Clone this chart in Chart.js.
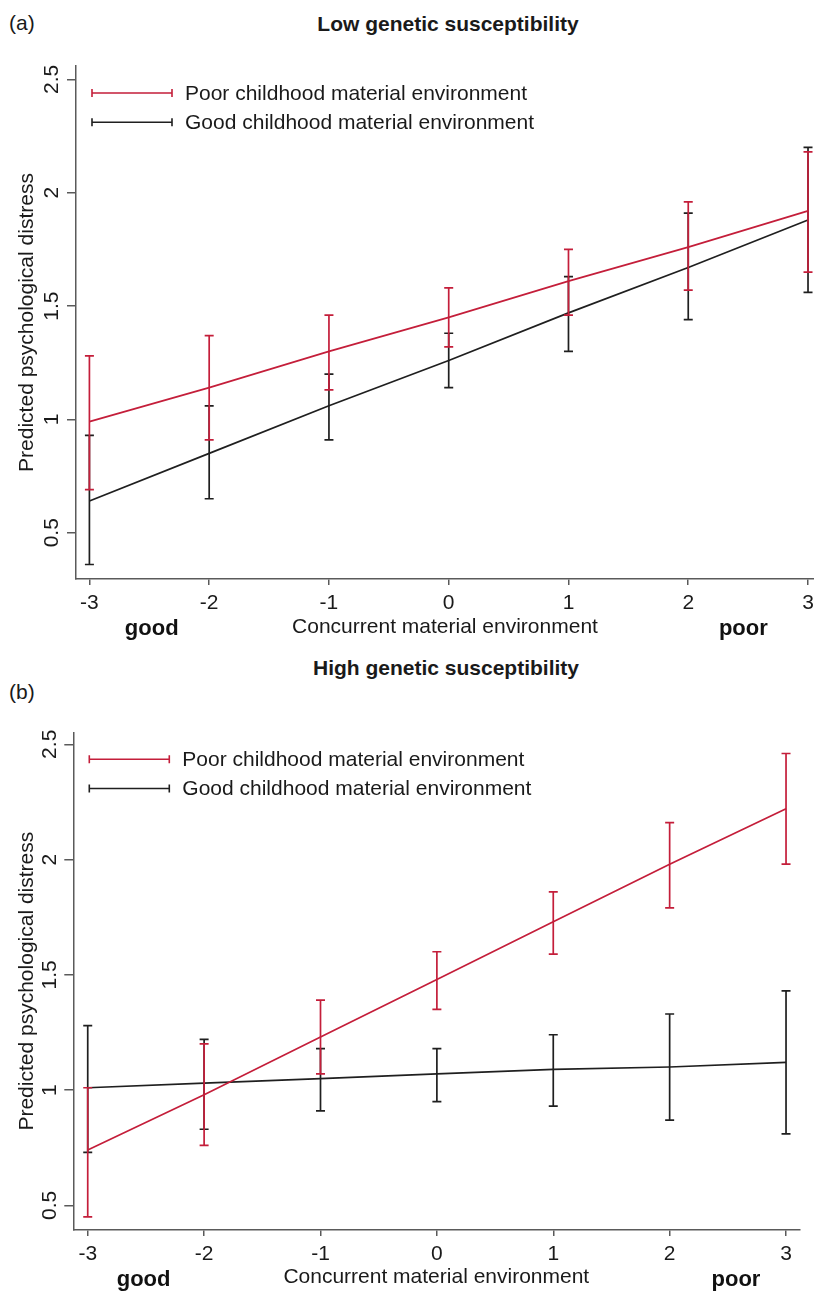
<!DOCTYPE html>
<html>
<head>
<meta charset="utf-8">
<script src="https://cdn.jsdelivr.net/npm/chart.js@4.4.0/dist/chart.umd.min.js"></script>
<style>
    body { margin: 0; background: #fff; font-family: 'Liberation Sans', Arial, sans-serif; }
    #page { position: relative; width: 814px; height: 1292px; overflow: hidden; }
    canvas { position: absolute; left: 0; }
    .tag { position: absolute; left: 9px; font-size: 21px; color: #1a1a1a; line-height: 24px; }
    .title { position: absolute; font-size: 21px; font-weight: bold; color: #1a1a1a; line-height: 24px;
             transform: translateX(-50%); white-space: nowrap; }
</style>
</head>
<body>
<div id="page">
    <div class="tag" style="top:11px;">(a)</div>
    <div class="title" style="left:448px; top:12px;">Low genetic susceptibility</div>
    <canvas id="lowChart" width="814" height="645" style="top:0px;"></canvas>

    <div class="tag" style="top:680px;">(b)</div>
    <div class="title" style="left:446px; top:656px;">High genetic susceptibility</div>
    <canvas id="highChart" width="814" height="647" style="top:645px;"></canvas>
</div>

<script>
// x 값 (concurrent material environment)
const xValues = [-3, -2, -1, 0, 1, 2, 3];
const xTickValues = [-3, -2, -1, 0, 1, 2, 3];
const yTickValues = [0.5, 1, 1.5, 2, 2.5];

const seriesLabels = ['Poor childhood material environment', 'Good childhood material environment'];

// (a) Low genetic susceptibility
const lowPoorMean  = [0.99, 1.14, 1.30, 1.45, 1.61, 1.76, 1.92];
const lowPoorLower = [0.69, 0.91, 1.13, 1.32, 1.46, 1.57, 1.65];
const lowPoorUpper = [1.28, 1.37, 1.46, 1.58, 1.75, 1.96, 2.18];
const lowGoodMean  = [0.64, 0.85, 1.06, 1.26, 1.47, 1.67, 1.88];
const lowGoodLower = [0.36, 0.65, 0.91, 1.14, 1.30, 1.44, 1.56];
const lowGoodUpper = [0.93, 1.06, 1.20, 1.38, 1.63, 1.91, 2.20];

// (b) High genetic susceptibility
const highPoorMean  = [0.74, 0.98, 1.23, 1.48, 1.73, 1.98, 2.22];
const highPoorLower = [0.45, 0.76, 1.07, 1.35, 1.59, 1.79, 1.98];
const highPoorUpper = [1.01, 1.20, 1.39, 1.60, 1.86, 2.16, 2.46];
const highGoodMean  = [1.01, 1.03, 1.05, 1.07, 1.09, 1.10, 1.12];
const highGoodLower = [0.73, 0.83, 0.91, 0.95, 0.93, 0.87, 0.81];
const highGoodUpper = [1.28, 1.22, 1.18, 1.18, 1.24, 1.33, 1.43];

const RED = '#c41e3a';
const BLACK = '#1f1f1f';
const AXIS = '#5a5a5a';
const FONT = "'Liberation Sans', Arial, sans-serif";

// 오차 막대 (데이터셋마다 선 바로 뒤에 그림)
const errorBarPlugin = {
    id: 'errorBars',
    afterDatasetDraw(chart, args, opts) {
        const ds = chart.data.datasets[args.index];
        if (!ds.lower) return;
        const ctx = chart.ctx;
        const xs = chart.scales.x;
        const ys = chart.scales.y;
        const cap = opts.capHalf;
        ctx.save();
        ctx.strokeStyle = ds.borderColor;
        ctx.lineWidth = opts.lineWidth;
        ds.data.forEach((pt, i) => {
            const px = xs.getPixelForValue(pt.x);
            const lo = ys.getPixelForValue(ds.lower[i]);
            const hi = ys.getPixelForValue(ds.upper[i]);
            ctx.beginPath();
            ctx.moveTo(px, lo); ctx.lineTo(px, hi);
            ctx.moveTo(px - cap, lo); ctx.lineTo(px + cap, lo);
            ctx.moveTo(px - cap, hi); ctx.lineTo(px + cap, hi);
            ctx.stroke();
        });
        ctx.restore();
    }
};

// 범례 (오차 막대 모양 기호)
const errorLegendPlugin = {
    id: 'errorLegend',
    afterDraw(chart, args, opts) {
        const ctx = chart.ctx;
        const area = chart.chartArea;
        ctx.save();
        chart.data.datasets.forEach((ds, i) => {
            const y = area.top + opts.top + i * opts.rowGap;
            const x0 = area.left + opts.left;
            const x1 = x0 + opts.symbolWidth;
            ctx.strokeStyle = ds.borderColor;
            ctx.lineWidth = 1.6;
            ctx.beginPath();
            ctx.moveTo(x0, y); ctx.lineTo(x1, y);
            ctx.moveTo(x0, y - 4); ctx.lineTo(x0, y + 4);
            ctx.moveTo(x1, y - 4); ctx.lineTo(x1, y + 4);
            ctx.stroke();
            ctx.fillStyle = '#1a1a1a';
            ctx.font = '21px ' + FONT;
            ctx.textBaseline = 'middle';
            ctx.textAlign = 'left';
            ctx.fillText(ds.label, x1 + opts.textGap, y + 1);
        });
        ctx.restore();
    }
};

// x축 양 끝의 good / poor
const endLabelPlugin = {
    id: 'endLabels',
    afterDraw(chart, args, opts) {
        const ctx = chart.ctx;
        const xs = chart.scales.x;
        const y = chart.chartArea.bottom + opts.offset;
        ctx.save();
        ctx.fillStyle = '#111';
        ctx.font = 'bold 22px ' + FONT;
        ctx.textAlign = 'center';
        ctx.textBaseline = 'middle';
        ctx.fillText('good', xs.getPixelForValue(opts.goodAt), y);
        ctx.fillText('poor', xs.getPixelForValue(opts.poorAt), y);
        ctx.restore();
    }
};

function makeSeries(label, color, mean, lower, upper) {
    return {
        label: label,
        data: xValues.map((x, i) => ({ x: x, y: mean[i] })),
        lower: lower,
        upper: upper,
        borderColor: color,
        backgroundColor: color,
        borderWidth: 1.7,
        pointRadius: 0,
        tension: 0,
        fill: false
    };
}

function renderPanel(canvasId, datasets, layout) {
    const ctx = document.getElementById(canvasId).getContext('2d');
    return new Chart(ctx, {
        type: 'line',
        data: { datasets: datasets },
        options: {
            responsive: false,
            animation: false,
            layout: { padding: { top: layout.top, right: layout.right, left: 0, bottom: 0 } },
            plugins: {
                legend: { display: false },
                tooltip: { enabled: false },
                errorBars: { capHalf: 4.5, lineWidth: 1.7 },
                errorLegend: { top: 27, rowGap: 29.2, left: 16, symbolWidth: 80, textGap: 13 },
                endLabels: { offset: 50, goodAt: layout.goodAt, poorAt: layout.poorAt }
            },
            scales: {
                x: {
                    type: 'linear',
                    min: layout.xMin,
                    max: layout.xMax,
                    bounds: 'data',
                    afterBuildTicks: scale => { scale.ticks = xTickValues.map(v => ({ value: v })); },
                    afterFit: scale => {
                        scale.height = layout.xHeight;
                        scale.paddingLeft = 0;
                        scale.paddingRight = 0;
                    },
                    grid: { drawOnChartArea: false, drawTicks: true, tickLength: 6, color: AXIS, lineWidth: 1.5 },
                    border: { display: true, color: AXIS, width: 1.5 },
                    ticks: { color: '#1a1a1a', font: { family: FONT, size: 21 }, padding: 6, maxRotation: 0 },
                    title: {
                        display: true,
                        text: 'Concurrent material environment',
                        color: '#1a1a1a',
                        font: { family: FONT, size: 21 },
                        padding: { top: 0, bottom: layout.xTitlePad }
                    }
                },
                y: {
                    type: 'linear',
                    min: layout.yMin,
                    max: layout.yMax,
                    bounds: 'data',
                    afterBuildTicks: scale => { scale.ticks = yTickValues.map(v => ({ value: v })); },
                    afterFit: scale => {
                        scale.width = layout.yWidth;
                        scale.paddingTop = 0;
                        scale.paddingBottom = 0;
                    },
                    grid: { drawOnChartArea: false, drawTicks: true, tickLength: 9, color: AXIS, lineWidth: 1.5 },
                    border: { display: true, color: AXIS, width: 1.5 },
                    ticks: {
                        color: '#1a1a1a',
                        font: { family: FONT, size: 21 },
                        minRotation: 90,
                        maxRotation: 90,
                        crossAlign: 'center',
                        padding: 0,
                        callback: v => String(v)
                    },
                    title: {
                        display: true,
                        text: 'Predicted psychological distress',
                        color: '#1a1a1a',
                        font: { family: FONT, size: 21 },
                        padding: { top: 15, bottom: 0 }
                    }
                }
            }
        },
        plugins: [errorBarPlugin, errorLegendPlugin, endLabelPlugin]
    });
}

window.lowChart = renderPanel('lowChart', [
    makeSeries(seriesLabels[0], RED, lowPoorMean, lowPoorLower, lowPoorUpper),
    makeSeries(seriesLabels[1], BLACK, lowGoodMean, lowGoodLower, lowGoodUpper)
], {
    top: 66, right: 0, yWidth: 76, xHeight: 66, xTitlePad: 5,
    xMin: -3.112, xMax: 3.05, yMin: 0.296, yMax: 2.559,
    goodAt: -2.48, poorAt: 2.46
});

window.highChart = renderPanel('highChart', [
    makeSeries(seriesLabels[0], RED, highPoorMean, highPoorLower, highPoorUpper),
    makeSeries(seriesLabels[1], BLACK, highGoodMean, highGoodLower, highGoodUpper)
], {
    top: 87.3, right: 14.7, yWidth: 73.3, xHeight: 62, xTitlePad: 2.4,
    xMin: -3.124, xMax: 3.114, yMin: 0.393, yMax: 2.552,
    goodAt: -2.52, poorAt: 2.57
});
</script>
</body>
</html>
